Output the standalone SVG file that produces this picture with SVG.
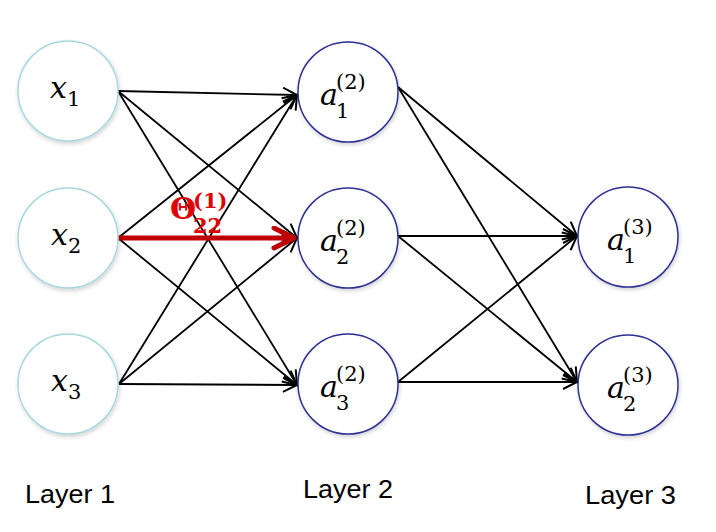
<svg xmlns="http://www.w3.org/2000/svg" width="716" height="532" viewBox="0 0 716 532">
<defs>
<marker id="ah" markerUnits="userSpaceOnUse" markerWidth="20" markerHeight="20" refX="15" refY="8" orient="auto">
<path d="M1,1 L15,8 L1,15" fill="none" stroke="#000" stroke-width="2"/>
</marker>
<marker id="ahr" markerUnits="userSpaceOnUse" markerWidth="30" markerHeight="30" refX="24" refY="12" orient="auto">
<path d="M3,2 L23,12 L3,22" fill="none" stroke="#c00000" stroke-width="5" stroke-linecap="round" stroke-linejoin="round"/>
</marker>
<filter id="sh" x="-20%" y="-20%" width="140%" height="140%">
<feDropShadow dx="1" dy="2" stdDeviation="2" flood-color="#000" flood-opacity="0.18"/>
</filter>
</defs>
<style>
.in{fill:#fff;stroke:#a8d8df;stroke-width:1.5;filter:url(#sh)}
.hid{fill:#fff;stroke:#2e3192;stroke-width:1.5;filter:url(#sh)}
.m{font-family:"DejaVu Serif","Liberation Serif",serif;font-style:italic;font-size:30px;fill:#000}
.s{font-family:"DejaVu Serif","Liberation Serif",serif;font-size:21px;fill:#000}
.lab{font-family:"Liberation Sans",Arial,sans-serif;font-size:25px;fill:#000}
.e{stroke:#000;stroke-width:1.8;fill:none;marker-end:url(#ah)}
.r{font-family:"DejaVu Serif","Liberation Serif",serif;font-weight:bold;fill:#e00000}
</style>
<g id="connectors">
<line class="e" x1="118" y1="91" x2="297" y2="95"/>
<line class="e" x1="118" y1="91" x2="297" y2="238"/>
<line class="e" x1="118" y1="91" x2="297" y2="385"/>
<line class="e" x1="118" y1="238" x2="297" y2="95"/>
<line class="e" x1="118" y1="238" x2="297" y2="385"/>
<line class="e" x1="119" y1="384" x2="297" y2="95"/>
<line class="e" x1="119" y1="384" x2="297" y2="238"/>
<line class="e" x1="119" y1="384" x2="297" y2="385"/>
<line class="e" x1="398" y1="87" x2="577" y2="236"/>
<line class="e" x1="398" y1="87" x2="577" y2="382"/>
<line class="e" x1="398" y1="236" x2="577" y2="236"/>
<line class="e" x1="398" y1="236" x2="577" y2="382"/>
<line class="e" x1="398" y1="382" x2="577" y2="236"/>
<line class="e" x1="398" y1="382" x2="577" y2="382"/>
<line class="e" x1="118" y1="238" x2="297" y2="238"/>
<line x1="118" y1="238" x2="295" y2="238" stroke="#c00000" stroke-width="5" marker-end="url(#ahr)"/>
</g>
<g id="theta">
<text class="r" x="170" y="219" font-size="30">Θ</text>
<text class="r" x="193" y="208" font-size="21">(1)</text>
<text class="r" x="193" y="233" font-size="21">22</text>
</g>
<g id="x1"><circle class="in" cx="68" cy="91" r="50"/><text class="m" x="50" y="98">x</text><text class="s" x="67" y="106">1</text></g>
<g id="x2"><circle class="in" cx="68" cy="238" r="50"/><text class="m" x="51" y="245">x</text><text class="s" x="68" y="253">2</text></g>
<g id="x3"><circle class="in" cx="68" cy="384" r="50"/><text class="m" x="51" y="391">x</text><text class="s" x="68" y="399">3</text></g>
<g id="a12"><circle class="hid" cx="348" cy="92" r="50"/><text class="m" x="320" y="105">a</text><text class="s" x="336" y="118">1</text><text class="s" x="336" y="89">(2)</text></g>
<g id="a22"><circle class="hid" cx="348" cy="238" r="50"/><text class="m" x="320" y="251">a</text><text class="s" x="336" y="264">2</text><text class="s" x="336" y="235">(2)</text></g>
<g id="a32"><circle class="hid" cx="348" cy="384" r="50"/><text class="m" x="320" y="397">a</text><text class="s" x="336" y="410">3</text><text class="s" x="336" y="381">(2)</text></g>
<g id="a13"><circle class="hid" cx="628" cy="237" r="50"/><text class="m" x="607" y="250">a</text><text class="s" x="623" y="263">1</text><text class="s" x="623" y="234">(3)</text></g>
<g id="a23"><circle class="hid" cx="628" cy="385" r="50"/><text class="m" x="607" y="398">a</text><text class="s" x="623" y="411">2</text><text class="s" x="623" y="382">(3)</text></g>
<g id="labels">
<text class="lab" x="25" y="503" textLength="90" lengthAdjust="spacingAndGlyphs">Layer 1</text>
<text class="lab" x="303" y="498" textLength="90" lengthAdjust="spacingAndGlyphs">Layer 2</text>
<text class="lab" x="585" y="504" textLength="91" lengthAdjust="spacingAndGlyphs">Layer 3</text>
</g>
</svg>
